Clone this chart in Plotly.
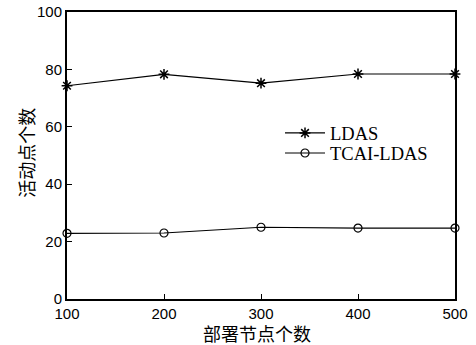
import plotly.graph_objects as go

nodes = [100, 200, 300, 400, 500]
ldas = [74.3, 78.3, 75.2, 78.4, 78.4]
tcai_ldas = [22.9, 23.0, 25.0, 24.7, 24.7]
x_ticks = [100, 200, 300, 400, 500]
y_ticks = [0, 20, 40, 60, 80, 100]

fig = go.Figure()
fig.add_trace(go.Scatter(
    x=nodes, y=ldas, name="LDAS", mode="lines+markers", legend="legend",
    line=dict(color="black", width=1.2),
    marker=dict(symbol="asterisk-open", size=9, color="black",
                line=dict(color="black", width=1.5)),
    cliponaxis=False,
))
fig.add_trace(go.Scatter(
    x=nodes, y=tcai_ldas, name="TCAI-LDAS", mode="lines+markers", legend="legend2",
    line=dict(color="black", width=1.2),
    marker=dict(symbol="circle-open", size=8, color="black",
                line=dict(color="black", width=1.2)),
    cliponaxis=False,
))

axis_common = dict(
    showgrid=False, zeroline=False, showline=True, linecolor="black",
    linewidth=2, mirror=True, ticks="inside", ticklen=5, tickcolor="black",
    automargin=False,
    tickfont=dict(family="Liberation Sans, Arial", size=15, color="black"),
)

legend_font = dict(family="Liberation Serif, Times New Roman", size=18.5, color="black")
legend_common = dict(xanchor="left", yanchor="middle", bgcolor="rgba(0,0,0,0)",
                     itemwidth=40, font=legend_font)

title_font = dict(family="Noto Sans CJK SC", size=18, color="black")

fig.update_layout(
    width=476, height=345,
    margin=dict(l=67, r=21, t=12, b=46),
    paper_bgcolor="white", plot_bgcolor="white",
    showlegend=True,
    xaxis=dict(range=[100, 500], tickvals=x_ticks, **axis_common),
    yaxis=dict(range=[0, 100], tickvals=y_ticks, **axis_common),
    legend=dict(x=0.549, y=0.577, **legend_common),
    legend2=dict(x=0.549, y=0.507, **legend_common),
    annotations=[
        dict(text="部署节点个数", xref="paper", yref="paper", x=0.49, y=-0.12,
             xanchor="center", yanchor="middle", showarrow=False, font=title_font),
        dict(text="活动点个数", xref="paper", yref="paper", x=-0.106, y=0.509,
             xanchor="center", yanchor="middle", textangle=-90, showarrow=False,
             font=title_font),
    ],
)

fig.write_html("out.html", config={"displayModeBar": False},
               post_script="document.body.style.margin='0';")
